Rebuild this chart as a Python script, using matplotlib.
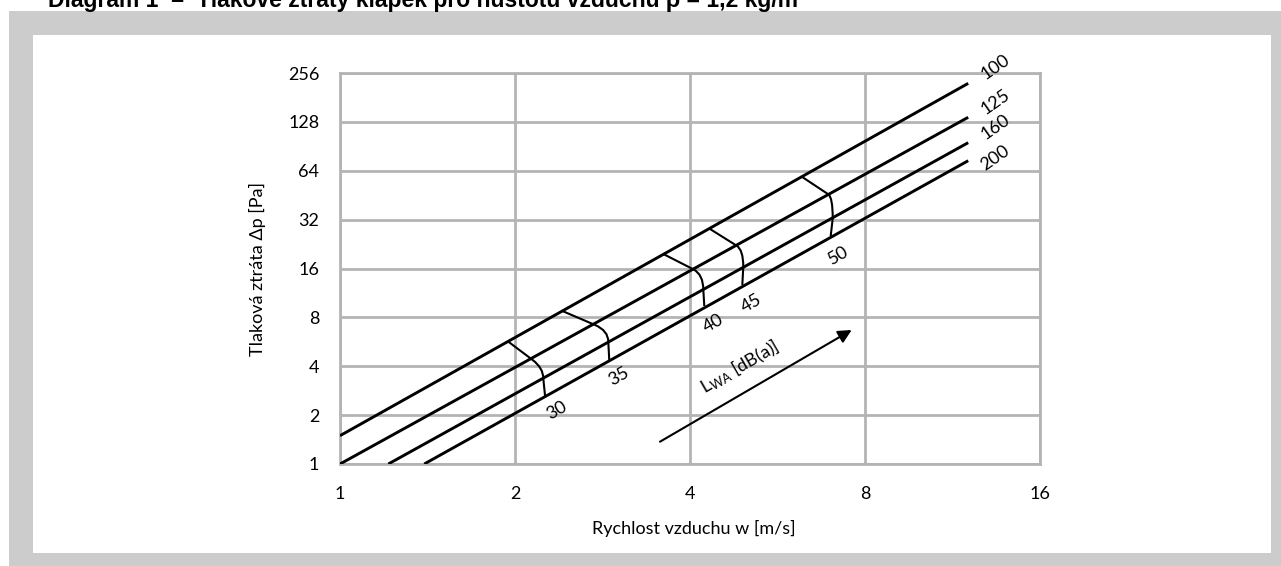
import matplotlib
matplotlib.use('Agg')
import matplotlib.pyplot as plt
from matplotlib.patches import Rectangle, PathPatch
from matplotlib.path import Path

plt.rcParams['font.family'] = ['Lato', 'DejaVu Sans']
plt.rcParams['mathtext.fontset'] = 'custom'
plt.rcParams['mathtext.rm'] = 'Lato'
plt.rcParams['mathtext.it'] = 'Lato:italic'

# ---------------- data ----------------
x_ticks = [1, 2, 4, 8, 16]
y_ticks = [1, 2, 4, 8, 16, 32, 64, 128, 256]
x_tick_labels = ['1', '2', '4', '8', '16']
y_tick_labels = ['1', '2', '4', '8', '16', '32', '64', '128', '256']

# damper size lines (straight in log-log): start / end points
line_labels = ['100', '125', '160', '200']
line_w_start = [1.0, 1.0, 1.211, 1.396]
line_dp_start = [1.494, 1.0, 1.0, 1.0]
line_w_end = [12.04, 12.04, 12.04, 12.04]
line_dp_end = [221.0, 136.6, 95.3, 73.8]
line_label_w = [13.39, 13.39, 13.39, 13.39]
line_label_dp = [280.0, 170.4, 118.5, 76.4]

# sound power curves: crossing with line 100, 125, bend point, crossing 160, 200
noise_labels = ['30', '35', '40', '45', '50']
noise_w = [
    [1.948, 2.145, 2.237, 2.237, 2.253],
    [2.406, 2.747, 2.894, 2.894, 2.905],
    [3.599, 4.053, 4.217, 4.217, 4.233],
    [4.330, 4.812, 4.940, 4.940, 4.921],
    [6.227, 6.918, 7.040, 7.040, 6.984],
]
noise_dp = [
    [5.666, 4.371, 3.902, 3.372, 2.623],
    [8.795, 7.180, 6.623, 5.666, 4.371],
    [19.65, 15.82, 14.72, 11.80, 9.40],
    [28.02, 22.11, 20.86, 16.41, 12.66],
    [58.83, 45.83, 43.99, 32.61, 25.37],
]
noise_label_w = [2.359, 3.019, 4.381, 5.108, 7.197]
noise_label_dp = [2.151, 3.449, 7.387, 9.81, 19.38]

arrow_w = [3.552, 7.589]
arrow_dp = [1.372, 6.689]
lwa_label_w = 4.876
lwa_label_dp = 3.975

title = 'Diagram 1  –  Tlakové ztráty klapek pro hustotu vzduchu ρ = 1,2 kg/m³'
x_label = 'Rychlost vzduchu w [m/s]'
y_label = 'Tlaková ztráta Δp [Pa]'

# ---------------- figure ----------------
W, H = 1281, 566
fig = plt.figure(figsize=(W / 100, H / 100), dpi=100, facecolor='white')

fig.patches.append(Rectangle((9 / W, 0), 1 - 9 / W, (H - 11) / H,
                             transform=fig.transFigure, facecolor='#CCCCCC',
                             edgecolor='none', zorder=-5))
fig.patches.append(Rectangle((33 / W, (H - 553) / H), (1271 - 33) / W, (553 - 35) / H,
                             transform=fig.transFigure, facecolor='white',
                             edgecolor='none', zorder=-4))

fig.text(48 / W, 1 - 7 / H, title, family=['Liberation Sans', 'DejaVu Sans'],
         fontweight='bold', fontsize=16.5, ha='left', va='baseline')

ax = fig.add_axes([340 / W, 1 - 464 / H, 700 / W, 391 / H])
ax.set_zorder(1)
ax.set_facecolor('white')
ax.set_xscale('log', base=2)
ax.set_yscale('log', base=2)
ax.set_xlim(1, 16)
ax.set_ylim(1, 256)
ax.set_xticks(x_ticks)
ax.set_xticklabels(x_tick_labels)
ax.set_yticks(y_ticks)
ax.set_yticklabels(y_tick_labels)
ax.minorticks_off()
ax.tick_params(axis='both', length=0, labelsize=13, colors='black')
ax.tick_params(axis='y', pad=15)
ax.tick_params(axis='x', pad=16)

grid_c = '#B4B4B4'
ax.grid(True, which='major', color=grid_c, lw=2.0)
ax.set_axisbelow(True)
for s in ax.spines.values():
    s.set_color(grid_c)
    s.set_linewidth(2.0)

for i in range(len(line_labels)):
    ax.plot([line_w_start[i], line_w_end[i]], [line_dp_start[i], line_dp_end[i]],
            color='black', lw=2.1, solid_capstyle='butt', zorder=3)
    ax.text(line_label_w[i], line_label_dp[i], line_labels[i], rotation=35,
            ha='center', va='center', rotation_mode='anchor', fontsize=13,
            clip_on=False)

codes = [Path.MOVETO, Path.LINETO, Path.CURVE3, Path.CURVE3, Path.LINETO]
for i in range(len(noise_labels)):
    verts = list(zip(noise_w[i], noise_dp[i]))
    patch = PathPatch(Path(verts, codes), facecolor='none', edgecolor='black',
                      lw=1.5, transform=ax.transData, zorder=3)
    ax.add_patch(patch)
    ax.text(noise_label_w[i], noise_label_dp[i], noise_labels[i], rotation=30,
            ha='center', va='center', rotation_mode='anchor', fontsize=13)

ax.annotate('', xy=(arrow_w[1], arrow_dp[1]), xytext=(arrow_w[0], arrow_dp[0]),
            arrowprops=dict(arrowstyle='-|>', color='black', lw=1.5,
                            mutation_scale=20, shrinkA=0, shrinkB=0))
ax.text(lwa_label_w, lwa_label_dp, r'L$_{\mathrm{WA}}$ [dB(a)]', rotation=30,
        ha='center', va='center', rotation_mode='anchor', fontsize=13)

fig.text(694 / W, 1 - 528 / H, x_label, ha='center', va='center', fontsize=13)
fig.text(257 / W, 1 - 268.5 / H, y_label, ha='center', va='center', fontsize=13,
         rotation=90)

fig.savefig('out.png', dpi=100, facecolor='white')
